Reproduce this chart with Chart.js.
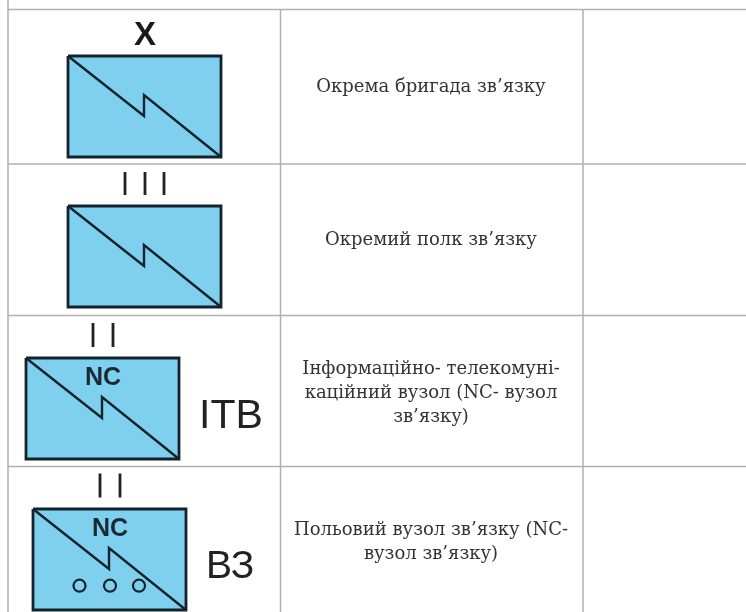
<!DOCTYPE html>
<html><head><meta charset="utf-8">
<style>html,body{margin:0;padding:0;background:#fff}#w{width:746px;height:612px;position:relative}</style>
<script src="https://cdn.jsdelivr.net/npm/chart.js@4"></script></head>
<body><div id="w"><canvas id="c"></canvas></div>
<script>
const ruleRows = [9.5, 164, 315.5, 466.5];
const ruleCols = [8, 280.5, 583];
const symbolOrigins = [[68,56],[68,206],[26,358],[33,509]];
const symbolSize = [153,101];
const boltPath = [[0,0],[76,60],[76,39],[153,101]];
const barsIII = [125,145,164];
const barsIIa = [93,113];
const barsIIb = [100,120];
const barSpans = [[172,195],[323,347],[473.5,497.5]];
const circleX = [79.5,110,139];
const circleY = 585.7;
const captions = [
 {y:[87], t:["Окрема бригада зв’язку"]},
 {y:[240], t:["Окремий полк зв’язку"]},
 {y:[369,393,417], t:["Інформаційно- телекомуні-","каційний вузол (NC- вузол","зв’язку)"]},
 {y:[530,554], t:["Польовий вузол зв’язку (NC-","вузол зв’язку)"]}
];
const marks = [
 {t:"X", x:145, y:45, font:"bold 33px 'Liberation Sans'", c:"#1a1a1a", a:"center"},
 {t:"NC", x:103, y:385, font:"bold 25px 'Liberation Sans'", c:"#1a2a33", a:"center"},
 {t:"NC", x:110, y:536, font:"bold 25px 'Liberation Sans'", c:"#1a2a33", a:"center"},
 {t:"ITB", x:199, y:428, font:"41px 'Liberation Sans'", c:"#222", a:"left"},
 {t:"ВЗ", x:206, y:578, font:"39px 'Liberation Sans'", c:"#222", a:"left"}
];
const captionX = 431;
const FILL="#7fd0ee", INK="#14232b", RULE="#b0b0b0";
const ds=[];
const line=(pts,color,w,extra={})=>ds.push(Object.assign({type:'line',data:pts.map(p=>({x:p[0],y:p[1]})),borderColor:color,borderWidth:w,pointRadius:0,tension:0,fill:false,borderCapStyle:'butt',borderJoinStyle:'miter',order:1},extra));
ruleRows.forEach(y=>line([[8,y],[746,y]],RULE,1.5,{order:3}));
ruleCols.forEach((x,i)=>line([[x,i==0?0:9.5],[x,612]],RULE,1.5,{order:3}));
symbolOrigins.forEach(o=>{
  const [w,h]=symbolSize;
  line([[o[0],o[1]],[o[0]+w,o[1]]],'rgba(0,0,0,0)',0,{fill:{value:o[1]+h},backgroundColor:FILL,order:2});
  line([[o[0],o[1]],[o[0]+w,o[1]],[o[0]+w,o[1]+h],[o[0],o[1]+h],[o[0],o[1]]],INK,2.8);
  line(boltPath.map(p=>[o[0]+p[0],o[1]+p[1]]),INK,2.4);
});
[[barsIII,0],[barsIIa,1],[barsIIb,2]].forEach(([xs,s])=>xs.forEach(x=>line([[x,barSpans[s][0]],[x,barSpans[s][1]]],"#222",2.8)));
ds.push({type:'scatter',data:circleX.map(x=>({x,y:circleY})),pointStyle:'circle',pointRadius:6,pointBorderWidth:2.2,pointBorderColor:INK,pointBackgroundColor:'rgba(0,0,0,0)',order:0});
const textPlugin={id:'tableText',afterDatasetsDraw(ch){
  const {ctx,scales:{x:sx,y:sy}}=ch;ctx.save();ctx.textBaseline='alphabetic';
  marks.forEach(m=>{ctx.font=m.font;ctx.fillStyle=m.c;ctx.textAlign=m.a;ctx.fillText(m.t,sx.getPixelForValue(m.x),sy.getPixelForValue(m.y));});
  ctx.font="18px 'DejaVu Serif'";ctx.fillStyle="#333";ctx.textAlign='center';ctx.textBaseline='middle';
  captions.forEach(c=>c.t.forEach((s,i)=>ctx.fillText(s,sx.getPixelForValue(captionX),sy.getPixelForValue(c.y[i]))));
  ctx.restore();
}};
new Chart(document.getElementById('c'),{
 data:{datasets:ds},plugins:[textPlugin],
 options:{responsive:true,maintainAspectRatio:false,animation:false,layout:{padding:0,autoPadding:false},
  plugins:{legend:{display:false},tooltip:{enabled:false}},
  scales:{x:{type:'linear',min:0,max:746,display:false},y:{type:'linear',min:0,max:612,reverse:true,display:false}}}
});
</script></body></html>
